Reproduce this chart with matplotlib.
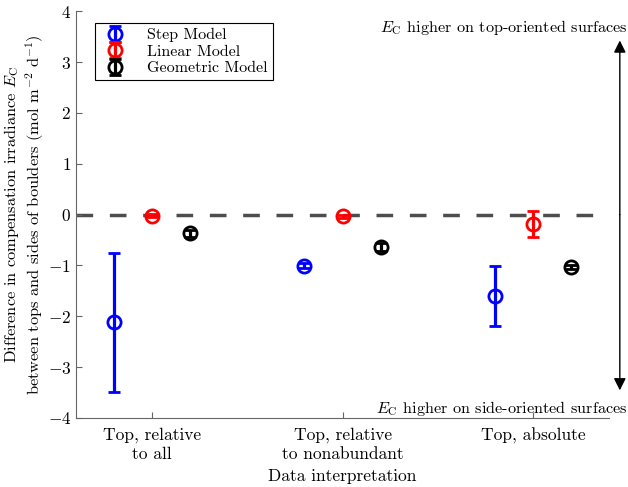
import matplotlib
matplotlib.use("Agg")
import matplotlib.pyplot as plt
import numpy as np

plt.rcParams['font.family'] = 'serif'
plt.rcParams['font.serif'] = ['cmr10']
plt.rcParams['mathtext.fontset'] = 'cm'
plt.rcParams['axes.unicode_minus'] = False
plt.rcParams['axes.formatter.use_mathtext'] = True

categories = ["Top, relative\nto all", "Top, relative\nto nonabundant", "Top, absolute"]
models = ["Step Model", "Linear Model", "Geometric Model"]
colors = [(0, 0, 1), (1, 0, 0), (0, 0, 0)]

step_mean = [-2.12, -1.01, -1.60]
step_err = [1.36, 0.05, 0.59]
linear_mean = [-0.02, -0.03, -0.185]
linear_err = [0.03, 0.03, 0.265]
geom_mean = [-0.37, -0.64, -1.03]
geom_err = [0.07, 0.08, 0.04]

means = [step_mean, linear_mean, geom_mean]
errs = [step_err, linear_err, geom_err]
offsets = [-0.2, 0.0, 0.2]

fig = plt.figure(figsize=(6.28, 4.87), dpi=100)
ax = fig.add_axes([0.121, 0.1417, 0.849, 0.8353])

x = np.arange(1, len(categories) + 1)
for m, e, c, off, lab in zip(means, errs, colors, offsets, models):
    ax.errorbar(x + off, m, yerr=e, fmt='o', color=c, mfc='none', mec=c,
                ms=9.5, mew=2, elinewidth=2.3, capsize=4.5, capthick=2.3, label=lab)

ax.axhline(0, color=(0.3, 0.3, 0.3), ls=(0, (4.8, 4.8)), lw=2.5, zorder=0)

ax.set_xlim(0.6, 3.4)
ax.set_ylim(-4, 4)
ax.set_xticks(x)
ax.set_xticklabels(categories, fontsize=12.5, linespacing=1.25)
ax.set_yticks(np.arange(-4, 5, 1))
ax.tick_params(axis='y', labelsize=12.5)
ax.tick_params(axis='x', pad=7)
ax.tick_params(direction='in', length=4, color=(0.4, 0.4, 0.4))
for s in ['top', 'right']:
    ax.spines[s].set_visible(False)
for s in ['left', 'bottom']:
    ax.spines[s].set_color((0.4, 0.4, 0.4))

ax.set_xlabel("Data interpretation", fontsize=12.5, labelpad=5)
ax.set_ylabel("Difference in compensation irradiance $E_\\mathrm{C}$\n"
              "between tops and sides of boulders (mol m$^{-2}$ d$^{-1}$)",
              fontsize=11.8, linespacing=1.15, labelpad=1)

leg = ax.legend(loc='upper left', bbox_to_anchor=(0.02, 0.99), fontsize=11.5,
                fancybox=False, edgecolor='black', framealpha=1, handlelength=2.0,
                borderpad=0.3, labelspacing=0.15, handletextpad=1.0)
leg.get_frame().set_linewidth(0.8)

fig.text(0.999, 0.943, "$E_\\mathrm{C}$ higher on top-oriented surfaces",
         ha='right', va='center', fontsize=11.7)
fig.text(0.999, 0.162, "$E_\\mathrm{C}$ higher on side-oriented surfaces",
         ha='right', va='center', fontsize=11.7)

ax.annotate("", xy=(1.02, 0.928), xytext=(1.02, 0.5), xycoords='axes fraction',
            textcoords='axes fraction',
            arrowprops=dict(arrowstyle='-|>', color='black', lw=1, mutation_scale=18,
                            shrinkA=0, shrinkB=0), annotation_clip=False)
ax.annotate("", xy=(1.02, 0.068), xytext=(1.02, 0.5), xycoords='axes fraction',
            textcoords='axes fraction',
            arrowprops=dict(arrowstyle='-|>', color='black', lw=1, mutation_scale=18,
                            shrinkA=0, shrinkB=0), annotation_clip=False)

fig.savefig("out.png", dpi=100)
